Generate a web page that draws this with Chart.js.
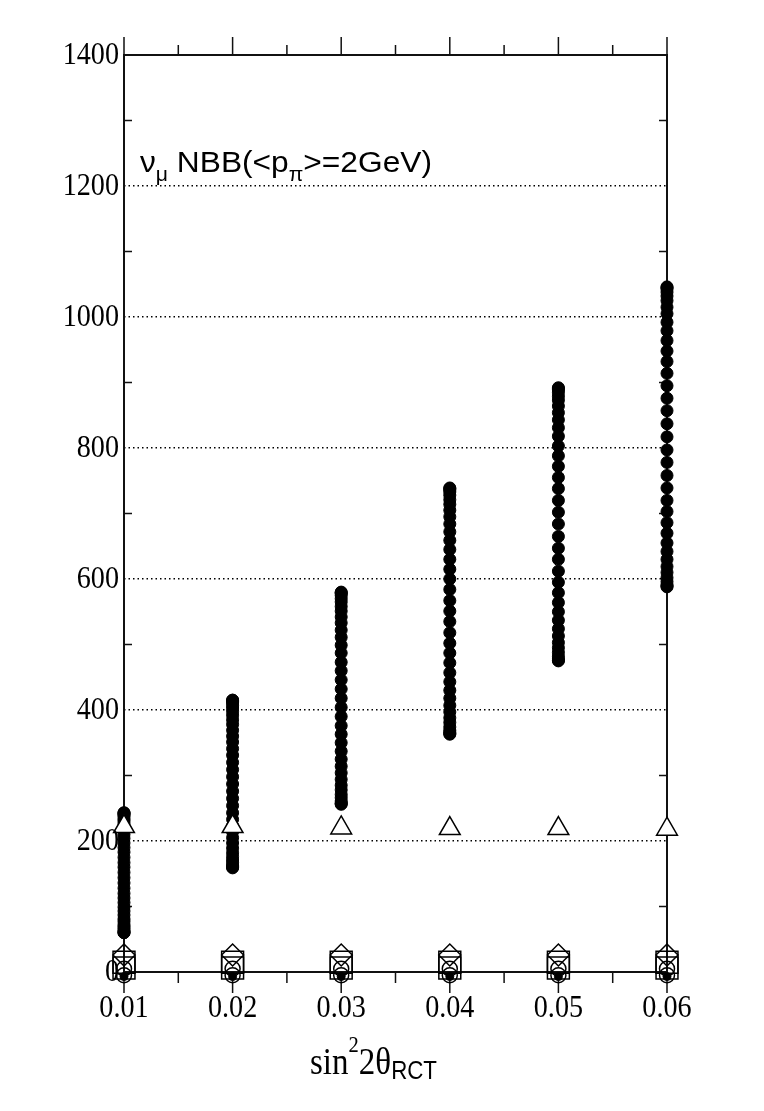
<!DOCTYPE html>
<html>
<head>
<meta charset="utf-8">
<script src="https://cdn.jsdelivr.net/npm/chart.js@4/dist/chart.umd.min.js"></script>
<style>
html,body{margin:0;padding:0;background:#fff;}
canvas{display:block;}
</style>
</head>
<body>
<canvas id="c" width="764" height="1111"></canvas>
<script>
// ---- data ----
const xValues = [0.01, 0.02, 0.03, 0.04, 0.05, 0.06];
const xTickLabels = ['0.01', '0.02', '0.03', '0.04', '0.05', '0.06'];
const yTickLabels = [0, 200, 400, 600, 800, 1000, 1200, 1400];

// filled-dot scan at each x (dense at both ends, sparser in the middle)
const scan001 = [243, 243, 242, 240, 238, 234, 231, 227, 222, 216, 210, 204, 197, 190, 183, 175, 167, 160, 152,
                 144, 136, 128, 120, 113, 106, 99, 93, 87, 81, 77, 72, 69, 66, 63, 61, 60, 60];
const scan002 = [415, 415, 413, 411, 407, 403, 398, 392, 385, 378, 369, 360, 351, 341, 331, 320, 309, 298, 287,
                 276, 265, 254, 243, 233, 223, 214, 205, 197, 189, 182, 176, 171, 167, 163, 161, 160, 159];
const scan003 = [580, 579, 578, 575, 570, 565, 558, 551, 542, 533, 522, 511, 499, 487, 473, 460, 446, 432, 418,
                 404, 390, 376, 363, 350, 337, 325, 314, 304, 294, 285, 278, 271, 266, 261, 258, 257, 256];
const scan004 = [739, 738, 736, 733, 728, 721, 714, 705, 695, 684, 672, 659, 645, 630, 615, 600, 584, 567, 551,
                 535, 518, 502, 487, 472, 457, 443, 430, 418, 407, 397, 388, 381, 374, 369, 366, 364, 363];
const scan005 = [892, 891, 889, 885, 879, 873, 864, 854, 843, 831, 818, 803, 788, 772, 755, 738, 720, 702, 684,
                 665, 647, 630, 612, 595, 579, 564, 550, 537, 524, 513, 503, 495, 488, 482, 478, 476, 475];
const scan006 = [1046, 1045, 1043, 1038, 1032, 1025, 1015, 1005, 992, 979, 964, 948, 932, 914, 895, 876, 857, 837, 817,
                 797, 778, 758, 739, 720, 703, 686, 670, 655, 642, 630, 619, 610, 602, 596, 591, 589, 588];

const triangleVals = [222, 222, 220, 219, 219, 218];
const diamondVals  = [26, 26, 26, 26, 26, 26];
const squareHiVals = [15, 15, 15, 15, 15, 15];
const squareLoVals = [6, 6, 6, 6, 6, 6];
const circleHiVals = [5, 5, 5, 5, 5, 5];
const circleLoVals = [-5, -5, -5, -5, -5, -5];
const lowDotVals   = [-7, -7, -7, -7, -7, -7];

// ---- build datasets ----
const scans = [scan001, scan002, scan003, scan004, scan005, scan006];
const pts = vals => xValues.map((x, i) => ({x: x, y: vals[i]}));
const scanPts = [];
scans.forEach((col, i) => col.forEach(v => scanPts.push({x: xValues[i], y: v})));

const ds = [
  {data: pts(triangleVals), pointStyle: 'triangle', pointRadius: 12, borderColor: '#000', backgroundColor: '#fff', borderWidth: 1.5},
  {data: pts(diamondVals), pointStyle: 'rectRot', pointRadius: 11, borderColor: '#000', backgroundColor: 'rgba(0,0,0,0)', borderWidth: 1.5},
  {data: pts(squareHiVals), pointStyle: 'rect', pointRadius: 15.5, borderColor: '#000', backgroundColor: 'rgba(0,0,0,0)', borderWidth: 1.5},
  {data: pts(squareLoVals), pointStyle: 'rect', pointRadius: 15.5, borderColor: '#000', backgroundColor: 'rgba(0,0,0,0)', borderWidth: 1.5},
  {data: pts(circleHiVals), pointStyle: 'circle', pointRadius: 7.5, borderColor: '#000', backgroundColor: 'rgba(0,0,0,0)', borderWidth: 1.5},
  {data: pts(circleLoVals), pointStyle: 'circle', pointRadius: 7.5, borderColor: '#000', backgroundColor: 'rgba(0,0,0,0)', borderWidth: 1.5},
  {data: pts(lowDotVals), pointStyle: 'circle', pointRadius: 4, borderColor: '#000', backgroundColor: '#000', borderWidth: 1},
  {data: scanPts, pointStyle: 'circle', pointRadius: 6, borderColor: '#000', backgroundColor: '#000', borderWidth: 1}
].map(d => Object.assign({clip: false, pointHoverRadius: d.pointRadius}, d));

// ---- text helper ----
function drawRuns(ctx, x0, runs, targetW) {
  let w = 0;
  runs.forEach(r => { ctx.font = r.font; r.w = ctx.measureText(r.text).width; w += r.w; });
  const sx = targetW / w;
  ctx.save();
  ctx.translate(x0, 0);
  ctx.scale(sx, 1);
  ctx.textAlign = 'left';
  ctx.textBaseline = 'alphabetic';
  ctx.fillStyle = '#000';
  let cx = 0;
  runs.forEach(r => { ctx.font = r.font; ctx.fillText(r.text, cx, r.y); cx += r.w; });
  ctx.restore();
}

const SERIF = '"Liberation Serif", "DejaVu Serif", serif';
const SANS = '"Liberation Sans", Arial, sans-serif';

const framePlugin = {
  id: 'frame',
  beforeDatasetsDraw(chart) {
    const {ctx, chartArea: a, scales: {x, y}} = chart;
    ctx.save();
    ctx.strokeStyle = '#111';
    ctx.lineWidth = 2;
    ctx.strokeRect(a.left, a.top, a.right - a.left, a.bottom - a.top);
    ctx.lineWidth = 1.5;
    ctx.beginPath();
    // x ticks: majors at 0.01 steps, minors halfway (top and bottom, outward)
    for (let i = 0; i < xValues.length; i++) {
      const px = x.getPixelForValue(xValues[i]);
      ctx.moveTo(px, a.bottom); ctx.lineTo(px, a.bottom + 21);
      ctx.moveTo(px, a.top); ctx.lineTo(px, a.top - 18);
      if (i < xValues.length - 1) {
        const pm = (px + x.getPixelForValue(xValues[i + 1])) / 2;
        ctx.moveTo(pm, a.bottom); ctx.lineTo(pm, a.bottom + 11);
        ctx.moveTo(pm, a.top); ctx.lineTo(pm, a.top - 10);
      }
    }
    // y minor ticks inward (left and right)
    for (let i = 0; i < yTickLabels.length - 1; i++) {
      const py = (y.getPixelForValue(yTickLabels[i]) + y.getPixelForValue(yTickLabels[i + 1])) / 2;
      ctx.moveTo(a.left, py); ctx.lineTo(a.left + 8, py);
      ctx.moveTo(a.right, py); ctx.lineTo(a.right - 8, py);
    }
    ctx.stroke();
    ctx.restore();
  },
  afterDraw(chart) {
    const {ctx, chartArea: a, scales: {x, y}} = chart;
    const sx = 0.88;
    ctx.save();
    ctx.fillStyle = '#000';
    ctx.font = '32px ' + SERIF;
    ctx.textBaseline = 'middle';
    // y tick labels
    yTickLabels.forEach(v => {
      ctx.save();
      ctx.translate(a.left - 5, y.getPixelForValue(v) + 1);
      ctx.scale(sx, 1);
      ctx.textAlign = 'right';
      ctx.fillText(String(v), 0, 0);
      ctx.restore();
    });
    // x tick labels
    xValues.forEach((v, i) => {
      ctx.save();
      ctx.translate(x.getPixelForValue(v), a.bottom + 37);
      ctx.scale(sx, 1);
      ctx.textAlign = 'center';
      ctx.fillText(xTickLabels[i], 0, 0);
      ctx.restore();
    });
    ctx.restore();

    // axis title: sin^2 2θ_RCT
    drawRuns(ctx, 310, [
      {text: 'sin', font: '37px ' + SERIF, y: 1074},
      {text: '2', font: '23px ' + SERIF, y: 1052},
      {text: '2θ', font: '37px ' + SERIF, y: 1074},
      {text: 'RCT', font: '25px ' + SANS, y: 1079}
    ], 127);

    // annotation: ν_μ NBB(<p_π>=2GeV)
    drawRuns(ctx, 140, [
      {text: 'ν', font: '30px ' + SANS, y: 172},
      {text: 'μ', font: '20px ' + SANS, y: 181},
      {text: ' NBB(<p', font: '30px ' + SANS, y: 172},
      {text: 'π', font: '20px ' + SANS, y: 181},
      {text: '>=2GeV)', font: '30px ' + SANS, y: 172}
    ], 292);
  }
};

new Chart(document.getElementById('c'), {
  type: 'scatter',
  data: {datasets: ds},
  plugins: [framePlugin],
  options: {
    responsive: false,
    animation: false,
    devicePixelRatio: 1,
    layout: {padding: {left: 0, right: 97, top: 55, bottom: 0}},
    plugins: {legend: {display: false}, tooltip: {enabled: false}},
    scales: {
      x: {
        type: 'linear', min: 0.01, max: 0.06,
        grid: {display: false},
        border: {display: false},
        ticks: {display: false, stepSize: 0.01},
        afterFit: s => { s.height = 139; }
      },
      y: {
        min: 0, max: 1400,
        ticks: {display: false, stepSize: 200},
        grid: {
          display: true, drawTicks: false, lineWidth: 1.5,
          color: c => (c.tick && c.tick.value > 0 && c.tick.value < 1400) ? '#000' : 'rgba(0,0,0,0)'
        },
        border: {display: false, dash: [1.5, 3]},
        afterFit: s => { s.width = 124; }
      }
    }
  }
});
</script>
</body>
</html>
